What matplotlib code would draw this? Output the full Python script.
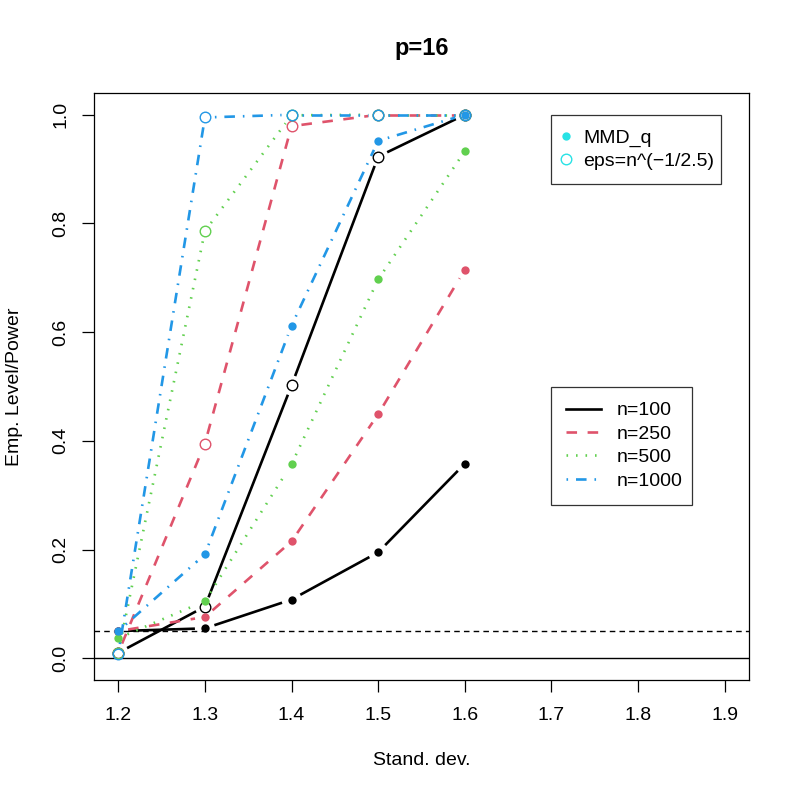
import numpy as np
import matplotlib
matplotlib.use("Agg")
import matplotlib.pyplot as plt
from matplotlib.lines import Line2D

plt.rcParams['font.family'] = ['Liberation Sans', 'DejaVu Sans']

# data
sd = [1.2, 1.3, 1.4, 1.5, 1.6]
n_labels = ["n=100", "n=250", "n=500", "n=1000"]
colors = ["#000000", "#DF536B", "#61D04F", "#2297E6"]
legend_color = "#28E2E5"

mmd_100 = [0.050, 0.055, 0.108, 0.195, 0.358]
mmd_250 = [0.050, 0.076, 0.215, 0.449, 0.715]
mmd_500 = [0.037, 0.105, 0.357, 0.697, 0.933]
mmd_1000 = [0.050, 0.191, 0.612, 0.952, 1.000]

eps_100 = [0.010, 0.095, 0.502, 0.923, 1.000]
eps_250 = [0.010, 0.395, 0.979, 1.000, 1.000]
eps_500 = [0.010, 0.786, 0.999, 1.000, 1.000]
eps_1000 = [0.008, 0.995, 1.000, 1.000, 1.000]

mmd_all = [mmd_100, mmd_250, mmd_500, mmd_1000]
eps_all = [eps_100, eps_250, eps_500, eps_1000]

# R-like line types
linestyles = ["-", (0, (4, 4)), (0, (0.6, 3)), (0, (0.6, 3, 4, 3))]
GAP = 10  # px gap around points (type="b")
LW = 1.9
FS = 14

fig = plt.figure(figsize=(7.97, 7.97), dpi=100)
ax = fig.add_axes([94 / 797, 1 - 680 / 797, 655 / 797, 587 / 797])
ax.set_xlim(1.172, 1.928)
ax.set_ylim(-0.04, 1.04)


def draw_b(x, y, color, ls, filled):
    pts = ax.transData.transform(np.column_stack([x, y]))
    inv = ax.transData.inverted()
    for p0, p1 in zip(pts[:-1], pts[1:]):
        d = p1 - p0
        L = np.hypot(*d)
        if L <= 2 * GAP:
            continue
        u = d / L
        seg = inv.transform(np.array([p0 + u * GAP, p1 - u * GAP]))
        ax.plot(seg[:, 0], seg[:, 1], color=color, linestyle=ls, lw=LW,
                solid_capstyle="butt", dash_capstyle="butt")
    if filled:
        ax.plot(x, y, "o", color=color, ms=6, mec=color, mew=0, ls="none")
    else:
        ax.plot(x, y, "o", mfc="none", mec=color, ms=7.6, mew=1.0, ls="none")


ax.axhline(0, color="black", lw=1.0)
ax.axhline(0.05, color="black", lw=1.0, linestyle=(0, (4, 3)))

for i in range(4):
    draw_b(sd, mmd_all[i], colors[i], linestyles[i], True)
    draw_b(sd, eps_all[i], colors[i], linestyles[i], False)

ax.set_xticks([1.2, 1.3, 1.4, 1.5, 1.6, 1.7, 1.8, 1.9])
ax.set_yticks([0.0, 0.2, 0.4, 0.6, 0.8, 1.0])
ax.set_yticklabels(["0.0", "0.2", "0.4", "0.6", "0.8", "1.0"], rotation=90, va="center")
ax.tick_params(direction="out", length=8.6, width=0.9, labelsize=FS)
ax.tick_params(axis="x", pad=11)
ax.tick_params(axis="y", pad=9)
for s in ax.spines.values():
    s.set_linewidth(0.9)

ax.set_title("p=16", fontsize=17, fontweight="bold", pad=27)
ax.set_xlabel("Stand. dev.", fontsize=FS, labelpad=20)
ax.set_ylabel("Emp. Level/Power", fontsize=FS, labelpad=21)

h1 = [Line2D([], [], marker="o", ls="none", color=legend_color, ms=6, mew=0),
      Line2D([], [], marker="o", ls="none", mfc="none", mec=legend_color, ms=7.6, mew=1.0)]
leg1 = ax.legend(h1, ["MMD_q", "eps=n^(\u22121/2.5)"], loc="upper left",
                 bbox_to_anchor=(551 / 797, 1 - 115 / 797, 170 / 797, 0),
                 bbox_transform=fig.transFigure, mode="expand",
                 fontsize=FS, frameon=True, fancybox=False, borderpad=0.72,
                 handlelength=0.1, handletextpad=0.85, labelspacing=0.3,
                 borderaxespad=0)
leg1.get_frame().set_edgecolor("black")
leg1.get_frame().set_linewidth(0.9)
ax.add_artist(leg1)

h2 = [Line2D([], [], color=colors[i], ls=linestyles[i], lw=LW) for i in range(4)]
leg2 = ax.legend(h2, n_labels, loc="upper left",
                 bbox_to_anchor=(551 / 797, 1 - 387 / 797, 141 / 797, 0),
                 bbox_transform=fig.transFigure, mode="expand",
                 fontsize=FS, frameon=True, fancybox=False, borderpad=0.76,
                 handlelength=1.8, handletextpad=0.82, labelspacing=0.3,
                 borderaxespad=0)
leg2.get_frame().set_edgecolor("black")
leg2.get_frame().set_linewidth(0.9)

fig.savefig("out.png", dpi=100)
